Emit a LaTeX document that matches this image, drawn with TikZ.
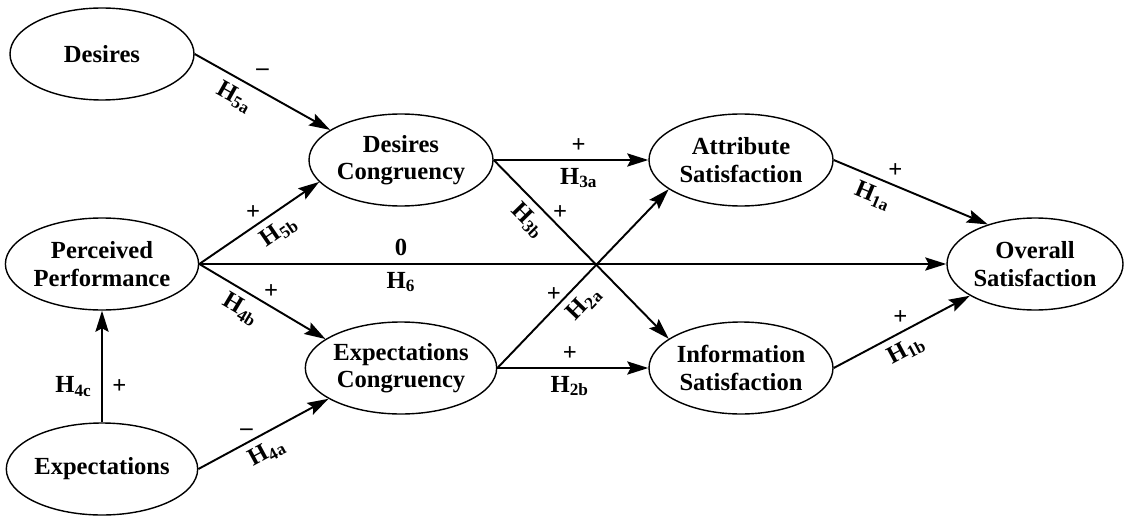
\documentclass[tikz,border=0pt]{standalone}
\usepackage{fontspec}
\setmainfont{Liberation Serif}
\usetikzlibrary{shapes.geometric,arrows.meta}
\newcommand{\hypl}[1]{H\textsubscript{#1}}

\begin{document}
\begin{tikzpicture}[line width=1.1pt, font=\bfseries\fontsize{14}{15.5}\selectfont,
  construct/.style={draw, ellipse, line width=0.8pt, minimum width=3.68cm,
    minimum height=1.84cm, inner sep=0pt, align=center},
  link/.style={-{Stealth[length=12pt,width=7.5pt,inset=2pt]}},
  sign/.style={above=2pt, inner sep=2pt},
  hyp/.style={below=3pt, sloped, inner sep=1pt}]
  \useasboundingbox (0,0) rectangle (22.5,-10.34);
  % constructs
  \node[construct] (des) at (2.04,-1.08) {Desires};
  \node[construct] (pp) at (2.04,-5.28) {Perceived\\Performance};
  \node[construct] (exp) at (2.04,-9.38) {Expectations};
  \node[construct] (dc) at (8.02,-3.2) {Desires\\Congruency};
  \node[construct] (ec) at (8.02,-7.36) {Expectations\\Congruency};
  \node[construct] (as) at (14.82,-3.2) {Attribute\\Satisfaction};
  \node[construct] (is) at (14.82,-7.36) {Information\\Satisfaction};
  \node[construct, minimum width=3.52cm] (os) at (20.7,-5.28) {Overall\\Satisfaction};
  % hypotheses
  \draw[link] (des.east) -- node[pos=.5, sign, above=5pt] {--} node[pos=.36, hyp] {\hypl{5a}} (dc.157);
  \draw[link] (pp.east) -- node[pos=.45, sign] {+} node[pos=.58, hyp] {\hypl{5b}} (dc.195);
  \draw[link] (pp.east) -- node[pos=.57, sign] {+} node[pos=.4, hyp] {\hypl{4b}} (ec.159);
  \draw[link] (exp.east) -- node[pos=.37, sign] {--} node[pos=.46, hyp] {\hypl{4a}} (ec.203);
  \draw[link] (exp.north) -- node[pos=.32, left=2pt] {\hypl{4c}} node[pos=.32, right=2pt] {+} (pp.south);
  \draw[link] (pp.east) -- node[pos=.27, sign] {0} node[pos=.27, hyp] {\hypl{6}} (os.west);
  \draw[link] (dc.east) -- node[pos=.55, sign] {+} node[pos=.55, hyp] {\hypl{3a}} (as.west);
  \draw[link] (dc.east) -- node[pos=.38, sign] {+} node[pos=.27, hyp] {\hypl{3b}} (is.158);
  \draw[link] (ec.east) -- node[pos=.33, sign] {+} node[pos=.43, hyp] {\hypl{2a}} (as.202);
  \draw[link] (ec.east) -- node[pos=.48, sign] {+} node[pos=.48, hyp] {\hypl{2b}} (is.west);
  \draw[link] (as.east) -- node[pos=.4, sign] {+} node[pos=.3, hyp] {\hypl{1a}} (os.140);
  \draw[link] (is.east) -- node[pos=.49, sign] {+} node[pos=.47, hyp] {\hypl{1b}} (os.206);
\end{tikzpicture}
\end{document}
